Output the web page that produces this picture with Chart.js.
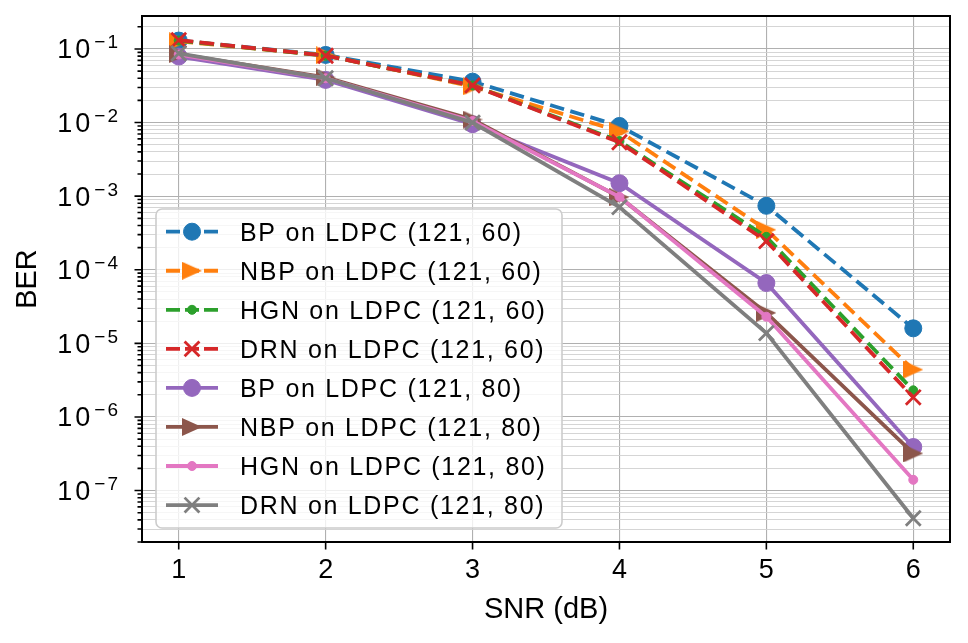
<!DOCTYPE html>
<html>
<head>
<meta charset="utf-8">
<script src="https://cdn.jsdelivr.net/npm/chart.js@4.4.1/dist/chart.umd.min.js"></script>
<style>
  html, body { margin: 0; padding: 0; background: #fff; }
  #wrap { width: 968px; height: 643px; }
</style>
</head>
<body>
<div id="wrap"><canvas id="berChart"></canvas></div>
<script>
// valores (BER vs SNR)
const snr = [1, 2, 3, 4, 5, 6];
const bp60  = [0.130, 0.083, 0.036, 0.0090, 0.00074, 1.6e-5];
const nbp60 = [0.127, 0.082, 0.031, 0.0076, 0.00035, 4.4e-6];
const hgn60 = [0.130, 0.081, 0.032, 0.0056, 0.00028, 2.3e-6];
const drn60 = [0.132, 0.081, 0.032, 0.0054, 0.000245, 1.85e-6];
const bp80  = [0.079, 0.038, 0.0095, 0.0015, 6.6e-5, 3.9e-7];
const nbp80 = [0.085, 0.041, 0.011, 0.00097, 2.6e-5, 3.2e-7];
const hgn80 = [0.084, 0.040, 0.0105, 0.00098, 2.3e-5, 1.4e-7];
const drn80 = [0.087, 0.040, 0.0100, 0.00071, 1.38e-5, 4.2e-8];

const seriesNames = [
    'BP on LDPC (121, 60)', 'NBP on LDPC (121, 60)', 'HGN on LDPC (121, 60)', 'DRN on LDPC (121, 60)',
    'BP on LDPC (121, 80)', 'NBP on LDPC (121, 80)', 'HGN on LDPC (121, 80)', 'DRN on LDPC (121, 80)'
];
const seriesValues = [bp60, nbp60, hgn60, drn60, bp80, nbp80, hgn80, drn80];

const xTicks = [1, 2, 3, 4, 5, 6];
const yTickExps = [-1, -2, -3, -4, -5, -6, -7];
const xTitle = 'SNR (dB)';
const yTitle = 'BER';

const FONT = "'Liberation Sans', Arial, sans-serif";

// triângulo apontando para a direita (marcador '>')
function makeTriangle(color, w, h) {
    const c = document.createElement('canvas');
    c.width = w; c.height = h;
    const g = c.getContext('2d');
    g.fillStyle = color;
    g.beginPath();
    g.moveTo(0, 0);
    g.lineTo(w, h / 2);
    g.lineTo(0, h);
    g.closePath();
    g.fill();
    return c;
}

const estilos = [
    { color: '#1f77b4', dash: true,  point: 'circle', r: 8.5 },
    { color: '#ff7f0e', dash: true,  point: makeTriangle('#ff7f0e', 20, 18), r: 10 },
    { color: '#2ca02c', dash: true,  point: 'circle', r: 4.5 },
    { color: '#d62728', dash: true,  point: 'crossRot', r: 10.5 },
    { color: '#9467bd', dash: false, point: 'circle', r: 8.5 },
    { color: '#8c564b', dash: false, point: makeTriangle('#8c564b', 20, 18), r: 10 },
    { color: '#e377c2', dash: false, point: 'circle', r: 4.5 },
    { color: '#7f7f7f', dash: false, point: 'crossRot', r: 10.5 }
];
const DASH = [14.5, 6.5];
const LW = 3.8;

function isMajor(v) {
    const l = Math.log10(v);
    return Math.abs(l - Math.round(l)) < 1e-9;
}

const datasets = seriesValues.map((vals, i) => {
    const s = estilos[i];
    return {
        label: seriesNames[i],
        data: snr.map((x, k) => ({ x: x, y: vals[k] })),
        borderColor: s.color,
        backgroundColor: s.color,
        borderWidth: LW,
        borderDash: s.dash ? DASH : [],
        pointStyle: s.point,
        pointRadius: s.r,
        pointHoverRadius: s.r,
        pointBackgroundColor: s.color,
        pointBorderColor: s.color,
        pointBorderWidth: s.point === 'crossRot' ? 2.8 : 1,
        tension: 0,
        fill: false,
        order: seriesValues.length - i
    };
});

// eixos, rótulos em notação 10^n, moldura e legenda no estilo matplotlib
const decoracao = {
    id: 'decoracao',
    afterDraw(chart) {
        const { ctx, chartArea: a, scales: { x, y } } = chart;
        ctx.save();
        ctx.strokeStyle = '#000';
        ctx.lineWidth = 1.6;
        ctx.setLineDash([]);
        ctx.beginPath();
        xTicks.forEach(v => {
            const px = x.getPixelForValue(v);
            ctx.moveTo(px, a.bottom);
            ctx.lineTo(px, a.bottom + 7.5);
        });
        y.ticks.forEach(t => {
            const py = y.getPixelForValue(t.value);
            ctx.moveTo(a.left - (isMajor(t.value) ? 7.5 : 4.5), py);
            ctx.lineTo(a.left, py);
        });
        ctx.stroke();

        // rótulos do eixo y
        ctx.fillStyle = '#000';
        ctx.textAlign = 'right';
        ctx.textBaseline = 'alphabetic';
        yTickExps.forEach(e => {
            const py = y.getPixelForValue(Math.pow(10, e));
            const right = a.left - 22;
            const sup = '\u2212' + (-e);
            ctx.font = '19px ' + FONT;
            ctx.letterSpacing = '2px';
            ctx.fillText(sup, right, py - 0.5);
            const supW = ctx.measureText(sup).width;
            ctx.font = '27px ' + FONT;
            ctx.letterSpacing = '3px';
            ctx.fillText('10', right - supW - 1, py + 9.5);
        });
        ctx.letterSpacing = '0px';

        // moldura
        ctx.lineWidth = 2;
        ctx.strokeRect(a.left, a.top, a.right - a.left, a.bottom - a.top);

        // legenda
        const lx = 156, ly = 209, lw = 406, lh = 319;
        ctx.beginPath();
        ctx.roundRect(lx, ly, lw, lh, 6);
        ctx.fillStyle = 'rgba(255,255,255,0.8)';
        ctx.fill();
        ctx.strokeStyle = '#cccccc';
        ctx.lineWidth = 1.6;
        ctx.stroke();

        seriesNames.forEach((name, i) => {
            const s = estilos[i];
            const yy = 231.7 + i * 39.05;
            ctx.strokeStyle = s.color;
            ctx.lineWidth = LW;
            ctx.setLineDash(s.dash ? [14, 5] : []);
            ctx.beginPath();
            ctx.moveTo(166, yy);
            ctx.lineTo(218, yy);
            ctx.stroke();
            ctx.setLineDash([]);
            ctx.fillStyle = s.color;
            ctx.strokeStyle = s.color;
            ctx.lineWidth = s.point === 'crossRot' ? 2.8 : 1;
            Chart.helpers.drawPoint(ctx, {
                pointStyle: s.point,
                radius: s.r,
                rotation: 0,
                borderWidth: s.point === 'crossRot' ? 2.8 : 1
            }, 192, yy);
            ctx.fillStyle = '#000';
            ctx.textAlign = 'left';
            ctx.font = '25px ' + FONT;
            ctx.letterSpacing = '1.7px';
            ctx.fillText(name, 240, yy + 8.8);
        });
        ctx.restore();
    }
};

new Chart(document.getElementById('berChart').getContext('2d'), {
    type: 'line',
    data: { datasets: datasets },
    options: {
        responsive: true,
        maintainAspectRatio: false,
        animation: false,
        devicePixelRatio: 1,
        layout: { padding: { top: 16, right: 18, bottom: 0, left: 0 } },
        plugins: { legend: { display: false }, tooltip: { enabled: false } },
        scales: {
            x: {
                type: 'linear',
                min: 0.75,
                max: 6.25,
                afterBuildTicks: scale => { scale.ticks = xTicks.map(v => ({ value: v })); },
                afterFit: scale => { scale.height = 101; },
                ticks: {
                    color: '#000',
                    font: { family: FONT, size: 27 },
                    padding: 12,
                    maxRotation: 0,
                    callback: v => String(v)
                },
                grid: { color: '#b0b0b0', lineWidth: 1.1, drawTicks: false },
                border: { display: false },
                title: {
                    display: true,
                    text: xTitle,
                    color: '#000',
                    font: { family: FONT, size: 29 },
                    padding: { top: 0, bottom: 16 }
                }
            },
            y: {
                type: 'logarithmic',
                min: 2.0e-8,
                max: 0.2806,
                afterBuildTicks: scale => {
                    const ticks = [];
                    for (let e = -8; e <= -1; e++) {
                        for (let m = 1; m <= 9; m++) {
                            const v = m * Math.pow(10, e);
                            if (v >= scale.min && v <= scale.max) ticks.push({ value: v });
                        }
                    }
                    scale.ticks = ticks;
                },
                afterFit: scale => { scale.width = 142; },
                ticks: { display: false },
                grid: {
                    drawTicks: false,
                    color: c => (c.tick && isMajor(c.tick.value)) ? '#b0b0b0' : '#d0d0d0',
                    lineWidth: c => (c.tick && isMajor(c.tick.value)) ? 1.1 : 0.9
                },
                border: { display: false },
                title: {
                    display: true,
                    text: yTitle,
                    color: '#000',
                    font: { family: FONT, size: 29 },
                    padding: { top: 11, bottom: 0 }
                }
            }
        }
    },
    plugins: [decoracao]
});
</script>
</body>
</html>
